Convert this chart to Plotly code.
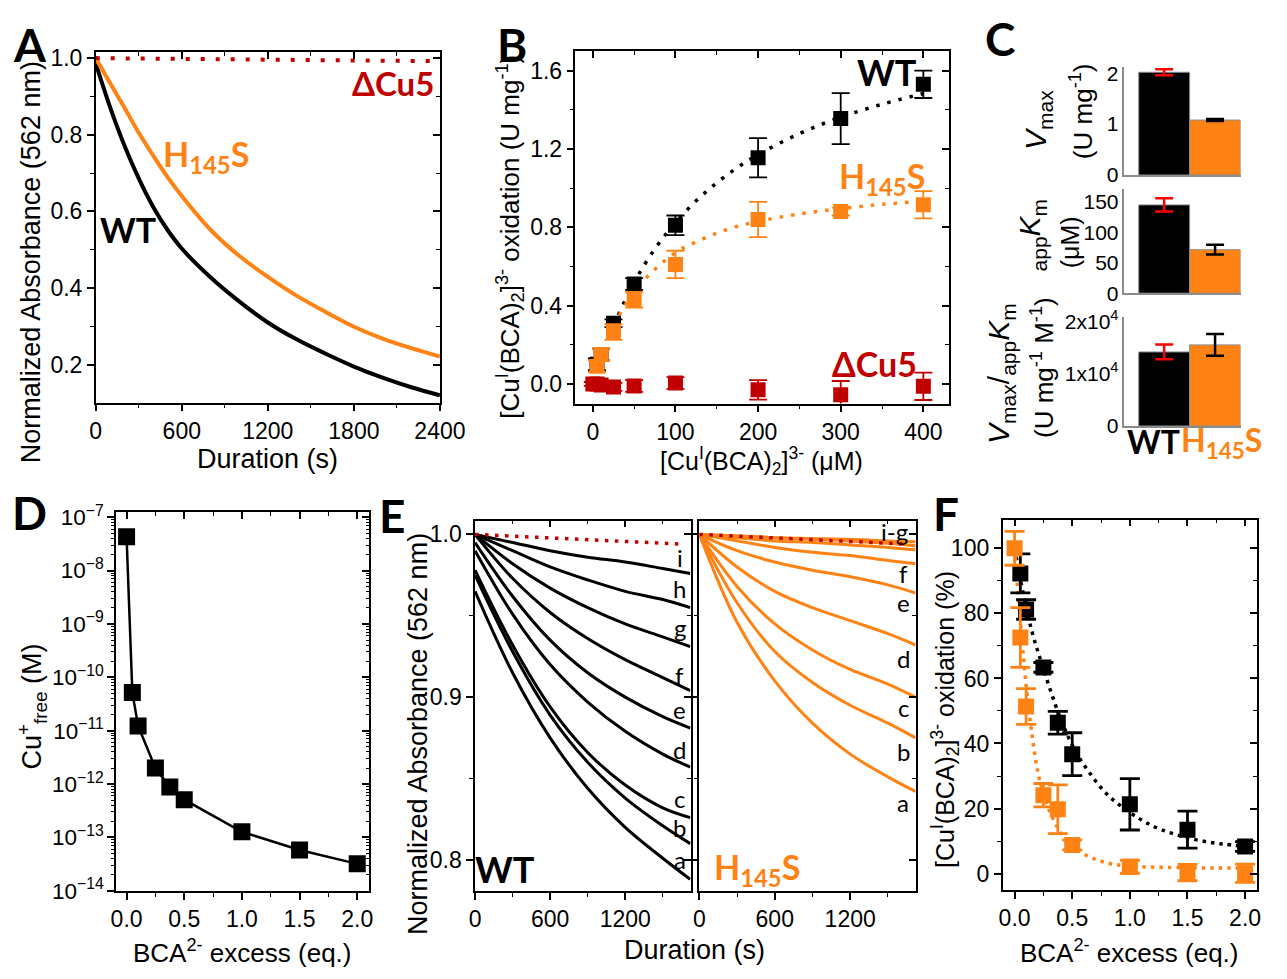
import plotly.graph_objects as go

W, H = 1287, 979
BLACK = "#000000"
ORANGE = "#FF8314"
DRED = "#C00000"
RED = "#FF0000"
TF = "Liberation Sans, Arial, sans-serif"
LF = "Lato, Open Sans, sans-serif"

# ---------------- data ----------------
# Panel A
A_t = [0, 100, 200, 300, 400, 500, 600, 800, 1000, 1200, 1400, 1600, 1800, 2000, 2200, 2400]
A_wt = [0.986, 0.872, 0.772, 0.686, 0.612, 0.552, 0.503, 0.428, 0.365, 0.310, 0.266, 0.229, 0.195, 0.166, 0.141, 0.120]
A_h145s = [1.0, 0.935, 0.871, 0.805, 0.746, 0.690, 0.640, 0.552, 0.484, 0.429, 0.380, 0.338, 0.299, 0.268, 0.243, 0.221]
A_dcu_t = [0, 600, 1200, 1800, 2400]
A_dcu = [1.0, 0.998, 0.996, 0.994, 0.992]

# Panel B
B_x = [5, 10, 25, 50, 100, 200, 300, 400]
B_wt = [0.10, 0.15, 0.31, 0.51, 0.81, 1.155, 1.355, 1.53]
B_wt_err = [0.03, 0.03, 0.02, 0.03, 0.05, 0.10, 0.13, 0.07]
B_h = [0.09, 0.15, 0.265, 0.43, 0.61, 0.84, 0.88, 0.915]
B_h_err = [0.03, 0.03, 0.04, 0.04, 0.07, 0.09, 0.02, 0.07]
B_dx = [0, 5, 10, 25, 50, 100, 200, 300, 400]
B_d = [0.0, 0.0, -0.005, -0.015, -0.01, 0.005, -0.03, -0.055, -0.012]
B_d_err = [0.01, 0.01, 0.01, 0.02, 0.03, 0.03, 0.05, 0.07, 0.07]
B_fit_x = [25, 50, 75, 100, 125, 150, 175, 200, 250, 300, 350, 400]
B_fit_wt = [0.297, 0.518, 0.689, 0.824, 0.935, 1.027, 1.105, 1.171, 1.278, 1.362, 1.428, 1.483]
B_fit_h = [0.30, 0.47, 0.585, 0.67, 0.725, 0.77, 0.805, 0.83, 0.868, 0.895, 0.917, 0.933]

# Panel C
C_cats = [0, 1]
C_vmax = [2.02, 1.08]
C_vmax_err = [0.06, 0.02]
C_km = [145.3, 71.6]
C_km_err = [11, 8]
C_ratio = [14150, 15500]
C_ratio_err = [1400, 2100]

# Panel D
D_x = [0, 0.05, 0.1, 0.25, 0.375, 0.5, 1.0, 1.5, 2.0]
D_y = [4.3e-8, 5.2e-11, 1.23e-11, 2.0e-12, 8.8e-13, 5.1e-13, 1.28e-13, 5.8e-14, 3.2e-14]

# Panel E
E_t = [0, 300, 600, 900, 1200, 1500, 1720]
E_wt = {
    "a": [0.965, 0.915, 0.875, 0.844, 0.820, 0.801, 0.788],
    "b": [0.975, 0.928, 0.889, 0.860, 0.838, 0.821, 0.810],
    "c": [0.978, 0.932, 0.894, 0.866, 0.846, 0.832, 0.826],
    "d": [0.990, 0.951, 0.920, 0.897, 0.879, 0.865, 0.857],
    "e": [0.995, 0.962, 0.935, 0.915, 0.900, 0.888, 0.881],
    "f": [1.000, 0.973, 0.952, 0.936, 0.923, 0.912, 0.904],
    "g": [1.000, 0.982, 0.967, 0.955, 0.945, 0.937, 0.931],
    "h": [1.000, 0.990, 0.980, 0.972, 0.965, 0.960, 0.955],
    "i": [1.000, 0.995, 0.990, 0.986, 0.983, 0.979, 0.976],
}
E_h = {
    "a": [1.0, 0.946, 0.910, 0.884, 0.865, 0.851, 0.842],
    "b": [1.0, 0.958, 0.928, 0.909, 0.895, 0.884, 0.875],
    "c": [1.0, 0.968, 0.945, 0.929, 0.917, 0.908, 0.900],
    "d": [1.0, 0.980, 0.965, 0.955, 0.947, 0.939, 0.932],
    "e": [1.0, 0.990, 0.983, 0.978, 0.974, 0.969, 0.964],
    "f": [1.0, 0.996, 0.992, 0.989, 0.987, 0.984, 0.982],
    "g": [1.0, 0.999, 0.998, 0.997, 0.996, 0.9945, 0.993],
    "h": [1.0, 0.998, 0.996, 0.995, 0.9935, 0.992, 0.9905],
    "i": [1.0, 0.999, 0.998, 0.9975, 0.997, 0.996, 0.9955],
}
E_dcu_t = [0, 600, 1200, 1660]
E_dcu = [1.0, 0.998, 0.996, 0.994]
E_lab_wt = ["i", "h", "g", "f", "e", "d", "c", "b", "a"]
E_lab_wt_y = [0.9856, 0.9668, 0.9428, 0.9134, 0.8924, 0.8677, 0.8376, 0.8202, 0.8004]
E_lab_h = ["i-g", "f", "e", "d", "c", "b", "a"]
E_lab_h_y = [1.0016, 0.9758, 0.9584, 0.9236, 0.8936, 0.8666, 0.8354]

# Panel F
F_x_wt = [0.05, 0.1, 0.25, 0.375, 0.5, 1.0, 1.5, 2.0]
F_wt = [92.3, 81.2, 63.4, 46.4, 36.7, 21.3, 13.5, 8.3]
F_wt_err = [6.0, 3.0, 1.5, 3.5, 6.6, 7.9, 5.7, 1.5]
F_x_h = [0, 0.05, 0.1, 0.25, 0.375, 0.5, 1.0, 1.5, 2.0]
F_h = [100, 72.6, 51.4, 24.1, 19.8, 8.8, 2.1, 0.3, 0.1]
F_h_err = [5.2, 9.2, 5.5, 3.6, 7.5, 1.5, 2.0, 2.5, 2.8]
F_fit_x_wt = [0, 0.05, 0.1, 0.15, 0.2, 0.25, 0.3, 0.4, 0.5, 0.6, 0.8, 1.0, 1.2, 1.4, 1.6, 1.8, 2.0]
F_fit_wt = [100, 90.5, 82, 74.5, 68.5, 63, 57.5, 47.5, 39.5, 33.5, 24.5, 18.8, 14.6, 12, 10.2, 9.1, 8.4]
F_fit_x_h = [0, 0.05, 0.1, 0.15, 0.2, 0.25, 0.3, 0.4, 0.5, 0.6, 0.8, 1.0, 1.5, 2.0]
F_fit_h = [100, 78, 58, 43, 31.5, 24.5, 19.5, 12.5, 8.5, 6, 3.3, 2.3, 1.8, 1.7]


# ---------------- helpers ----------------
def fx(px):
    return px / W


def fy(py):
    return 1 - py / H


def xk(n):
    return "xaxis" if n == 1 else f"xaxis{n}"


def yk(n):
    return "yaxis" if n == 1 else f"yaxis{n}"


def xr(n):
    return "x" if n == 1 else f"x{n}"


def yr(n):
    return "y" if n == 1 else f"y{n}"


layout = {}


def base_axis(inside=False):
    return dict(
        showline=True, linecolor=BLACK, linewidth=1.5,
        ticks="inside" if inside else "outside", ticklen=7, tickwidth=1.5, tickcolor=BLACK,
        showgrid=False, zeroline=False,
        tickfont=dict(family=TF, size=23, color=BLACK),
    )


def minor(dt, inside=False):
    return dict(dtick=dt, ticks="inside" if inside else "outside", ticklen=4,
                tickwidth=1.3, tickcolor=BLACK, showgrid=False)


fig = go.Figure()


def panel(n, m, xd, yd, xrng, yrng, xt, yt, ylog=False, ylabels=True, fsize=23, yfsize=None):
    x = base_axis()
    x.update(domain=[fx(xd[0]), fx(xd[1])], range=xrng, anchor=yr(n), **xt["main"])
    x["tickfont"]["size"] = fsize
    y = base_axis()
    y.update(domain=[fy(yd[1]), fy(yd[0])], range=yrng, anchor=xr(n), **yt["main"])
    y["tickfont"]["size"] = yfsize or fsize
    if ylog:
        y["type"] = "log"
    if not ylabels:
        y["showticklabels"] = False
    layout[xk(n)] = x
    layout[yk(n)] = y
    # mirror axes (top / right) with inward ticks
    xm = base_axis(inside=True)
    xm.update(overlaying=xr(n), side="top", range=xrng, anchor=yr(m), showticklabels=False, **xt["mirror"])
    ym = base_axis(inside=True)
    ym.update(overlaying=yr(n), side="right", range=yrng, anchor=xr(m), showticklabels=False, **yt["mirror"])
    if ylog:
        ym["type"] = "log"
    layout[xk(m)] = xm
    layout[yk(m)] = ym
    fig.add_trace(go.Scatter(x=[None], y=[None], xaxis=xr(m), yaxis=yr(m),
                             showlegend=False, hoverinfo="skip"))


def tk(tick0, dt, mdt, fmt=None):
    d = dict(main=dict(tick0=tick0, dtick=dt, minor=minor(mdt)),
             mirror=dict(tick0=tick0, dtick=dt, minor=minor(mdt, True)))
    if fmt:
        d["main"]["tickformat"] = fmt
    return d


def logtk():
    return dict(main=dict(dtick=1, exponentformat="power", showexponent="all",
                          minor=dict(dtick="D1", ticks="outside", ticklen=3, tickwidth=1, tickcolor=BLACK)),
                mirror=dict(dtick=1, minor=dict(dtick="D1", ticks="inside", ticklen=3, tickwidth=1, tickcolor=BLACK)))


# Panel A (1, mirror 10)
panel(1, 10, (92, 445), (43, 402), [0, 2400], [0.101, 1.016],
      tk(0, 600, 300), tk(0, 0.2, 0.1, ".1f"))
# Panel B (2, mirror 11)
panel(2, 11, (584, 967), (42, 403), [-21, 431], [-0.1, 1.7],
      tk(0, 100, 50), tk(0, 0.4, 0.2, ".1f"))
# Panel D (6, mirror 12)
panel(6, 12, (113, 372), (514, 902), [-0.09, 2.1], [-14, -6.9],
      tk(0, 0.5, 0.25, ".1f"), logtk(), ylog=True, yfsize=18)
# Panel E (7, 8; mirrors 13, 14)
panel(7, 13, (481, 702), (523, 902), [0, 1722], [0.781, 1.0084],
      tk(0, 600, 300), tk(0.8, 0.1, 0.05, ".1f"))
panel(8, 14, (711, 933), (523, 902), [0, 1722], [0.781, 1.0084],
      tk(0, 600, 300), tk(0.8, 0.1, 0.05, ".1f"), ylabels=False)
# Panel F (9, mirror 15)
panel(9, 15, (1022, 1283), (522, 901), [-0.104, 2.104], [-5, 108.8],
      tk(0, 0.5, 0.25, ".1f"), tk(0, 20, 10))

# Panel C axes (3,4,5)
for n, (yd, yrng, tv, tt) in zip(
    [3, 4, 5],
    [((58, 169), [0, 2.13], [0, 1, 2], ["0", "1", "2"]),
     ((183, 290), [0, 172], [0, 50, 100, 150], ["0", "50", "100", "150"]),
     ((314, 426), [0, 20900], [0, 10000, 20000], ["0", "1x10<sup>4</sup>", "2x10<sup>4</sup>"])]):
    layout[xk(n)] = dict(domain=[fx(1147), fx(1266)], range=[-0.78, 1.5], anchor=yr(n),
                         showline=True, linecolor="#8C8C8C", linewidth=1.5, showticklabels=False,
                         ticks="", showgrid=False, zeroline=False)
    layout[yk(n)] = dict(domain=[fy(yd[1]), fy(yd[0])], range=yrng, anchor=xr(n),
                         showline=True, linecolor="#8C8C8C", linewidth=1.5, ticks="",
                         tickvals=tv, ticktext=tt, showgrid=False, zeroline=False,
                         tickfont=dict(family=TF, size=21, color=BLACK))

# ---------------- traces ----------------
# A
fig.add_trace(go.Scatter(x=A_t, y=A_wt, mode="lines", line=dict(color=BLACK, width=4, shape="spline"),
                         xaxis="x", yaxis="y"))
fig.add_trace(go.Scatter(x=A_t, y=A_h145s, mode="lines", line=dict(color=ORANGE, width=4, shape="spline"),
                         xaxis="x", yaxis="y"))
fig.add_trace(go.Scatter(x=A_dcu_t, y=A_dcu, mode="lines", line=dict(color=DRED, width=4, dash="4px,11px"),
                         xaxis="x", yaxis="y"))

# B
fig.add_trace(go.Scatter(x=B_fit_x, y=B_fit_wt, mode="lines", line=dict(color=BLACK, width=3.5, dash="3.5px,8px", shape="spline"),
                         xaxis="x2", yaxis="y2"))
fig.add_trace(go.Scatter(x=B_fit_x, y=B_fit_h, mode="lines", line=dict(color=ORANGE, width=3.5, dash="3.5px,8px", shape="spline"),
                         xaxis="x2", yaxis="y2"))
for xs, ys, es, col in [(B_x, B_wt, B_wt_err, BLACK), (B_x, B_h, B_h_err, ORANGE), (B_dx, B_d, B_d_err, DRED)]:
    fig.add_trace(go.Scatter(x=xs, y=ys, mode="markers",
                             marker=dict(symbol="square", size=15, color=col, line=dict(width=0)),
                             error_y=dict(type="data", array=es, color=col, thickness=1.8, width=9),
                             xaxis="x2", yaxis="y2"))

# C
for n, vals, errs in [(3, C_vmax, C_vmax_err), (4, C_km, C_km_err), (5, C_ratio, C_ratio_err)]:
    fig.add_trace(go.Bar(x=[C_cats[0]], y=[vals[0]], width=1, marker=dict(color=BLACK, line=dict(color="#8C8C8C", width=1)),
                         error_y=dict(type="data", array=[errs[0]], color=RED, thickness=2.5, width=9),
                         xaxis=xr(n), yaxis=yr(n)))
    fig.add_trace(go.Bar(x=[C_cats[1]], y=[vals[1]], width=1, marker=dict(color=ORANGE, line=dict(color="#8C8C8C", width=1)),
                         error_y=dict(type="data", array=[errs[1]], color=BLACK, thickness=2.5, width=9),
                         xaxis=xr(n), yaxis=yr(n)))

# D
fig.add_trace(go.Scatter(x=D_x, y=D_y, mode="lines+markers", line=dict(color=BLACK, width=2.5),
                         marker=dict(symbol="square", size=17, color=BLACK), xaxis="x6", yaxis="y6"))

# E
for k in "abcdefghi":
    fig.add_trace(go.Scatter(x=E_t, y=E_wt[k], mode="lines", line=dict(color=BLACK, width=3, shape="spline"),
                             xaxis="x7", yaxis="y7"))
fig.add_trace(go.Scatter(x=E_dcu_t, y=E_dcu, mode="lines", line=dict(color=DRED, width=3.5, dash="3.5px,6.5px"),
                         xaxis="x7", yaxis="y7"))
for k in "abcdefghi":
    fig.add_trace(go.Scatter(x=E_t, y=E_h[k], mode="lines", line=dict(color=ORANGE, width=3, shape="spline"),
                             xaxis="x8", yaxis="y8"))
fig.add_trace(go.Scatter(x=E_dcu_t, y=E_dcu, mode="lines", line=dict(color=DRED, width=3.5, dash="3.5px,6.5px"),
                         xaxis="x8", yaxis="y8"))

# F
fig.add_trace(go.Scatter(x=F_fit_x_wt, y=F_fit_wt, mode="lines", line=dict(color=BLACK, width=3.5, dash="3.5px,5px", shape="spline"),
                         xaxis="x9", yaxis="y9"))
fig.add_trace(go.Scatter(x=F_fit_x_h, y=F_fit_h, mode="lines", line=dict(color=ORANGE, width=3.5, dash="3.5px,5px", shape="spline"),
                         xaxis="x9", yaxis="y9"))
fig.add_trace(go.Scatter(x=F_x_wt, y=F_wt, mode="markers",
                         marker=dict(symbol="square", size=16, color=BLACK),
                         error_y=dict(type="data", array=F_wt_err, color=BLACK, thickness=2.8, width=10),
                         xaxis="x9", yaxis="y9"))
fig.add_trace(go.Scatter(x=F_x_h, y=F_h, mode="markers",
                         marker=dict(symbol="square", size=16, color=ORANGE),
                         error_y=dict(type="data", array=F_h_err, color=ORANGE, thickness=2.8, width=10),
                         xaxis="x9", yaxis="y9"))

# ---------------- annotations ----------------
ann = []


def txt(px, py, text, size, color=BLACK, family=TF, angle=0, bold=False, xa="center", ya="middle"):
    ann.append(dict(x=fx(px), y=fy(py), xref="paper", yref="paper", text=text, showarrow=False,
                    textangle=angle, xanchor=xa, yanchor=ya,
                    font=dict(family=family, size=size, color=color, weight="bold" if bold else "normal")))


# panel letters
for L, px, py in [("A", 25, 35), ("B", 519, 35), ("C", 1019, 29), ("D", 24, 515), ("E", 396, 518), ("F", 964, 516)]:
    txt(px, py, L, 46, family=LF, bold=True)

# axis titles
txt(26, 258, "Normalized Absorbance (562 nm)", 27, angle=-90)
txt(268, 460, "Duration (s)", 27)
txt(516, 232, "[Cu<sup>I</sup>(BCA)<sub>2</sub>]<sup>3-</sup> oxidation (U mg<sup>-1</sup>)", 26, angle=-90)
txt(775, 462, "[Cu<sup>I</sup>(BCA)<sub>2</sub>]<sup>3-</sup> (μM)", 25)
txt(27, 713, "Cu<sup>+</sup><sub>free</sub> (M)", 27, angle=-90)
txt(242, 964, "BCA<sup>2-</sup> excess (eq.)", 26)
txt(422, 742, "Normalized Absorbance (562 nm)", 27, angle=-90)
txt(706, 963, "Duration (s)", 27)
txt(963, 727, "[Cu<sup>I</sup>(BCA)<sub>2</sub>]<sup>3-</sup> oxidation (%)", 25, angle=-90)
txt(1152, 964, "BCA<sup>2-</sup> excess (eq.)", 26)

# panel C titles
txt(1058, 113, "<i>V</i><sub>max</sub>", 30, angle=-90)
txt(1103, 104, "(U mg<sup>-1</sup>)", 26, angle=-90)
txt(1052, 230, "<sub>app</sub><i>K</i><sub>m</sub>", 30, angle=-90)
txt(1092, 238, "(μM)", 25, angle=-90)
txt(1020, 372, "<i>V</i><sub>max</sub>/<sub>app</sub><i>K</i><sub>m</sub>", 30, angle=-90)
txt(1063, 366, "(U mg<sup>-1</sup> M<sup>-1</sup>)", 26, angle=-90)
txt(1177, 442, "WT", 32, family=LF, bold=True)
txt(1246, 442, "H<sub>145</sub>S", 32, color=ORANGE, family=LF, bold=True)

# series labels
txt(397, 75, "ΔCu5", 33, color=DRED, family=LF, bold=True)
txt(205, 150, "H<sub>145</sub>S", 34, color=ORANGE, family=LF, bold=True)
txt(125, 225, "WT", 34, family=LF, bold=True)
txt(903, 63, "WT", 36, family=LF, bold=True)
txt(898, 172, "H<sub>145</sub>S", 34, color=ORANGE, family=LF, bold=True)
txt(891, 362, "ΔCu5", 34, color=DRED, family=LF, bold=True)
txt(512, 880, "WT", 36, family=LF, bold=True)
txt(770, 880, "H<sub>145</sub>S", 34, color=ORANGE, family=LF, bold=True)

# E curve letters (data coordinates)
for k, yv in zip(E_lab_wt, E_lab_wt_y):
    ann.append(dict(x=1637, y=yv, xref="x7", yref="y7", text=k, showarrow=False,
                    font=dict(family=LF, size=24, color=BLACK)))
for k, yv in zip(E_lab_h, E_lab_h_y):
    ann.append(dict(x=1553 if k == "i-g" else 1623, y=yv, xref="x8", yref="y8", text=k, showarrow=False,
                    font=dict(family=LF, size=24, color=BLACK)))

layout.update(
    width=W, height=H, margin=dict(l=0, r=0, t=0, b=0),
    paper_bgcolor="white", plot_bgcolor="white", showlegend=False,
    barmode="overlay", annotations=ann,
)
fig.update_layout(**layout)
fig.write_html("out.html")
